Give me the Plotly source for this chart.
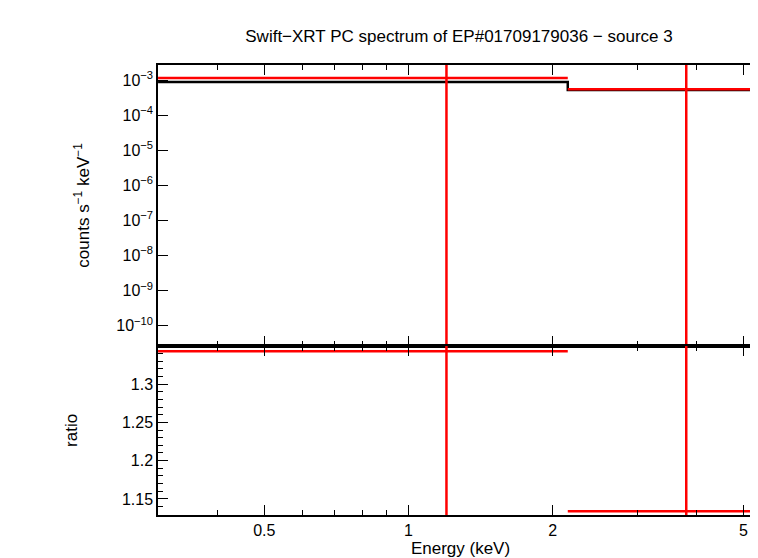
import plotly.graph_objects as go
from plotly.subplots import make_subplots

# spectral bins (keV)
bin_lo = [0.3, 2.15]
bin_hi = [2.15, 5.5]
bin_center = [1.2, 3.8]
rate = [1.14e-3, 5.5e-4]
rate_err_lo = [1e-12, 1e-12]
rate_err_hi = [1e-1, 1e-1]
model_x = [0.3, 2.15, 5.5]
model_y = [8.8e-4, 5.2e-4, 5.2e-4]
ratio = [1.343, 1.134]
ratio_err_lo = [1.0, 1.0]
ratio_err_hi = [1.5, 1.5]

top_ticks = [1e-3, 1e-4, 1e-5, 1e-6, 1e-7, 1e-8, 1e-9, 1e-10]
top_labels = [f"10<sup>−{k}</sup>" for k in range(3, 11)]

RED = "#ff0000"
fig = make_subplots(rows=2, cols=1, shared_xaxes=True, vertical_spacing=0,
                    row_heights=[0.624, 0.376])


def bins_xy(vals):
    xs, ys = [], []
    for lo, hi, v in zip(bin_lo, bin_hi, vals):
        xs += [lo, hi, None]
        ys += [v, v, None]
    return xs, ys


def bars_xy(lows, highs):
    xs, ys = [], []
    for c, lo, hi in zip(bin_center, lows, highs):
        xs += [c, c, None]
        ys += [lo, hi, None]
    return xs, ys


fig.add_trace(go.Scatter(x=model_x, y=model_y, mode="lines", line_shape="hv",
                         line=dict(color="black", width=2.5)), row=1, col=1)
x, y = bins_xy(rate)
fig.add_trace(go.Scatter(x=x, y=y, mode="lines", line=dict(color=RED, width=2.5)), row=1, col=1)
x, y = bars_xy(rate_err_lo, rate_err_hi)
fig.add_trace(go.Scatter(x=x, y=y, mode="lines", line=dict(color=RED, width=2.5)), row=1, col=1)
x, y = bins_xy(ratio)
fig.add_trace(go.Scatter(x=x, y=y, mode="lines", line=dict(color=RED, width=2.5)), row=2, col=1)
x, y = bars_xy(ratio_err_lo, ratio_err_hi)
fig.add_trace(go.Scatter(x=x, y=y, mode="lines", line=dict(color=RED, width=2.5)), row=2, col=1)

axis = dict(showline=True, linecolor="black", linewidth=1.5, mirror="ticks",
            ticks="inside", tickcolor="black", showgrid=False, zeroline=False,
            automargin=False, tickfont=dict(size=16, color="black"))
fig.update_xaxes(type="log", range=[-0.523, 0.740], tickvals=[0.5, 1, 2, 5],
                 ticktext=["0.5", "1", "2", "5"], ticklen=10,
                 minor=dict(ticks="inside", ticklen=5, tickcolor="black",
                            tickvals=[0.3, 0.4, 0.6, 0.7, 0.8, 0.9, 3, 4]), **axis)
fig.update_xaxes(title=dict(text="Energy (keV)", font=dict(size=17, color="black"), standoff=2),
                 row=2, col=1)
fig.update_yaxes(type="log", range=[-10.57, -2.57], tickvals=top_ticks, ticktext=top_labels,
                 ticklen=10, title=dict(text="counts s<sup>−1</sup> keV<sup>−1</sup>",
                                        font=dict(size=17, color="black"), standoff=22),
                 row=1, col=1, **axis)
fig.update_yaxes(range=[1.129, 1.35], tickvals=[1.15, 1.2, 1.25, 1.3],
                 ticktext=["1.15", "1.2", "1.25", "1.3"], ticklen=10,
                 minor=dict(ticks="inside", ticklen=5, tickcolor="black", dtick=0.01),
                 title=dict(text="ratio", font=dict(size=17, color="black"), standoff=40),
                 row=2, col=1, **axis)

fig.update_layout(
    width=758, height=558, showlegend=False,
    margin=dict(l=150, r=3, t=57, b=51, autoexpand=False),
    paper_bgcolor="white", plot_bgcolor="white",
    font=dict(family="Liberation Sans, Arial, sans-serif", color="black"),
    title=dict(text="Swift−XRT PC spectrum of EP#01709179036 − source 3",
               x=0.595, xanchor="center", y=0.96, font=dict(size=17, color="black")),
)

fig.write_html("out.html")
